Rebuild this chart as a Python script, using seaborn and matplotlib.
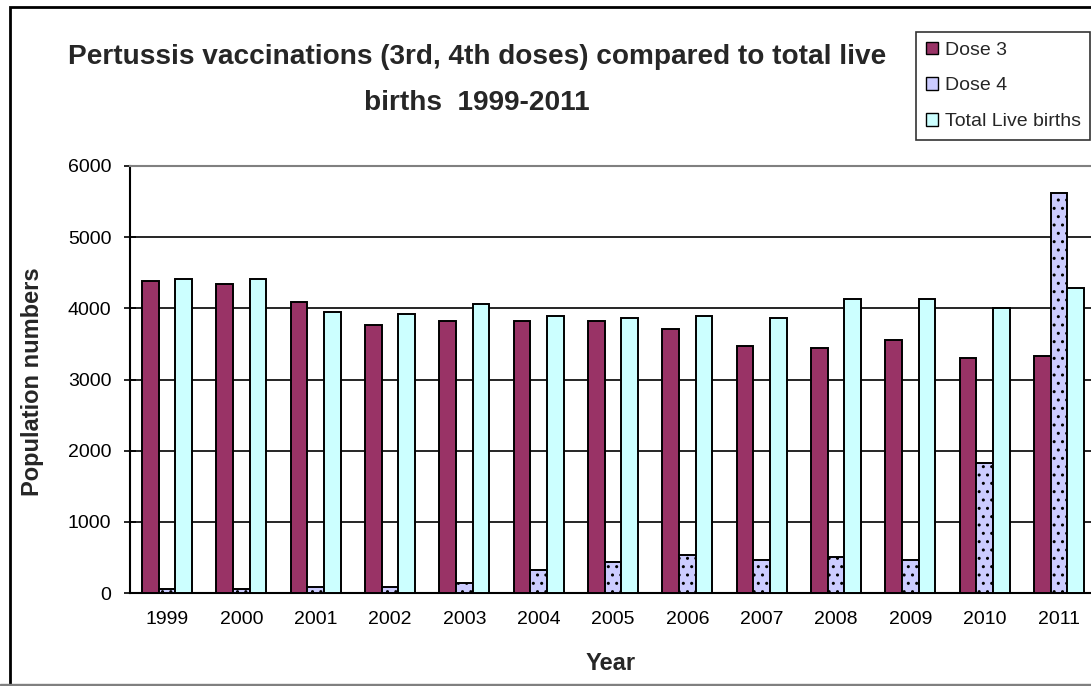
import matplotlib
matplotlib.use("Agg")
import matplotlib.pyplot as plt
from matplotlib.patches import Rectangle
import seaborn as sns
import pandas as pd

years = ["1999", "2000", "2001", "2002", "2003", "2004", "2005",
         "2006", "2007", "2008", "2009", "2010", "2011"]
dose3 = [4385, 4335, 4085, 3765, 3815, 3815, 3815, 3705, 3465, 3440, 3550, 3305, 3330]
dose4 = [50, 50, 80, 80, 140, 330, 430, 540, 470, 500, 470, 1830, 5625]
live_births = [4410, 4410, 3955, 3925, 4060, 3890, 3870, 3895, 3870, 4135, 4135, 4000, 4280]
series = ["Dose 3", "Dose 4", "Total Live births"]
colors = ["#993366", "#CCCCFF", "#CCFFFF"]

df = pd.DataFrame({
    "Year": years * 3,
    "Value": dose3 + dose4 + live_births,
    "Series": [series[0]] * 13 + [series[1]] * 13 + [series[2]] * 13,
})

sns.set_theme(style="white")
plt.rcParams["font.family"] = ["Liberation Sans", "DejaVu Sans"]

fig = plt.figure(figsize=(10.91, 6.86), dpi=100)
W, H = 1091, 686
ax = fig.add_axes([130 / W, 1 - 593 / H, 966 / W, (593 - 166) / H])

sns.barplot(data=df, x="Year", y="Value", hue="Series", palette=colors,
            width=0.672, gap=0, saturation=1, edgecolor="black",
            linewidth=1.4, ax=ax, legend=True, zorder=3)

# dotted fill for the fourth dose
for bar in ax.containers[1]:
    bar.set_hatch("..")

ax.set_ylim(0, 6000)
ax.set_xlim(-0.5, 12.5)
ax.set_yticks(range(0, 6001, 1000))
ax.yaxis.grid(True, color="black", linewidth=1.2, zorder=0)
ax.set_axisbelow(True)

ax.tick_params(axis="x", which="major", length=0, labelsize=14, pad=13, colors="black")
ax.set_xticks([i - 0.5 for i in range(14)], minor=True)
ax.tick_params(axis="x", which="minor", length=5, width=1.3, direction="out", color="black")
ax.tick_params(axis="y", length=9, width=1.2, direction="inout", labelsize=14, pad=9,
               colors="black", left=True)

for s in ["left", "bottom"]:
    ax.spines[s].set_color("black")
    ax.spines[s].set_linewidth(1.5)
ax.spines["top"].set_color("#808080")
ax.spines["top"].set_linewidth(1.5)
ax.spines["right"].set_color("#808080")

ax.set_xlabel("")
ax.set_ylabel("")
fig.text(611 / W, 1 - 664 / H, "Year", ha="center", va="center",
         fontsize=17, fontweight="bold")
fig.text(33 / W, 1 - 382 / H, "Population numbers", ha="center", va="center",
         rotation=90, fontsize=17, fontweight="bold")
fig.text(477 / W, 1 - 80 / H,
         "Pertussis vaccinations (3rd, 4th doses) compared to total live\nbirths  1999-2011",
         ha="center", va="center", fontsize=20.2, fontweight="bold", linespacing=1.98)

leg = ax.legend(loc="upper left", bbox_to_anchor=(916 / W, 1 - 32 / H),
                bbox_transform=fig.transFigure, frameon=True, fancybox=False,
                fontsize=14, handlelength=0.62, handleheight=0.62,
                handletextpad=0.35, labelspacing=0.95, borderpad=0.5,
                borderaxespad=0)
leg.get_frame().set_edgecolor("black")
leg.get_frame().set_linewidth(1.2)
for h in leg.legend_handles:
    h.set_edgecolor("black")
    h.set_linewidth(1.0)

# chart-area border
fig.patches.append(Rectangle((10 / W, 1 - 685 / H), 1.2, (685 - 7) / H,
                             transform=fig.transFigure, fill=False,
                             edgecolor="black", linewidth=2, zorder=0))
fig.patches.append(Rectangle((0, 1 - 685 / H), 1, 0.001,
                             transform=fig.transFigure, color="#808080", zorder=1))

fig.savefig("out.png", dpi=100)
